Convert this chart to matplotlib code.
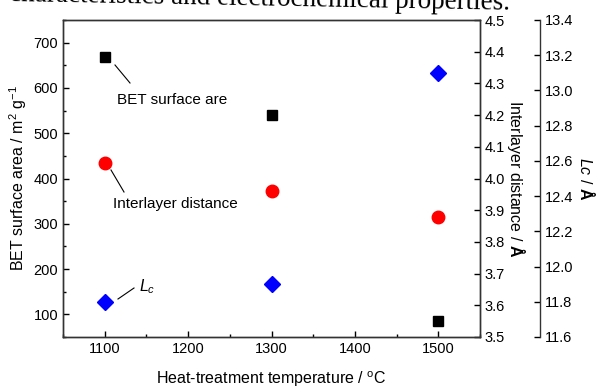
import matplotlib
matplotlib.use("Agg")
import matplotlib.pyplot as plt
from matplotlib.ticker import MultipleLocator, FormatStrFormatter

plt.rcParams['font.family'] = ['Liberation Sans', 'DejaVu Sans']
plt.rcParams['mathtext.fontset'] = 'custom'
plt.rcParams['mathtext.rm'] = 'Liberation Sans'
plt.rcParams['mathtext.it'] = 'Liberation Sans:italic'
plt.rcParams['mathtext.bf'] = 'Liberation Sans:bold'

temperature = [1100, 1300, 1500]
bet_area = [668, 540, 85]
interlayer = [4.05, 3.96, 3.88]
lc = [11.80, 11.90, 13.10]

fig = plt.figure(figsize=(5.96, 3.88), dpi=100)
W, H = 596, 388
ax = fig.add_axes([63 / W, 1 - 337 / H, (480 - 63) / W, (337 - 20) / H])
ax2 = ax.twinx()
ax3 = ax.twinx()
ax3.spines['right'].set_position(('outward', (540 - 480) * 0.72))

ax.plot(temperature, bet_area, 's', color='black', markersize=7.5, linestyle='none', clip_on=False, zorder=5)
ax2.plot(temperature, interlayer, 'o', color='red', markersize=9, linestyle='none', clip_on=False)
ax3.plot(temperature, lc, 'D', color='blue', markersize=8, linestyle='none', clip_on=False)

ax.set_xlim(1050, 1550)
ax.set_ylim(50, 750)
ax2.set_ylim(3.5, 4.5)
ax3.set_ylim(11.6, 13.4)

ax.xaxis.set_major_locator(MultipleLocator(100))
ax.xaxis.set_minor_locator(MultipleLocator(50))
ax.yaxis.set_major_locator(MultipleLocator(100))
ax.yaxis.set_minor_locator(MultipleLocator(50))
ax2.yaxis.set_major_locator(MultipleLocator(0.1))
ax3.yaxis.set_major_locator(MultipleLocator(0.2))
ax2.yaxis.set_major_formatter(FormatStrFormatter('%.1f'))
ax3.yaxis.set_major_formatter(FormatStrFormatter('%.1f'))

ax.tick_params(axis='both', which='major', direction='in', length=4, width=1, labelsize=10.5, top=False, right=False)
ax.tick_params(axis='both', which='minor', direction='in', length=2.5, width=1, top=False, right=False)
ax2.tick_params(axis='y', which='major', direction='in', length=4, width=1, labelsize=10.5)
ax3.tick_params(axis='y', which='major', direction='in', length=4, width=1, labelsize=10.5)

for a in (ax, ax2, ax3):
    for s in a.spines.values():
        s.set_linewidth(1.0)
        s.set_color('#333333')
ax3.spines['left'].set_visible(False)
ax3.spines['top'].set_visible(False)
ax3.spines['bottom'].set_visible(False)

ax.set_xlabel(r'Heat-treatment temperature / $^{\mathrm{o}}$C', fontsize=11.5, labelpad=10)
ax.set_ylabel(r'BET surface area / m$^{2}$ g$^{-1}$', fontsize=11.5, labelpad=3)
ax2.set_ylabel(r'Interlayer distance / $\mathbf{\AA}$', fontsize=11.5, rotation=270, labelpad=16)
ax3.set_ylabel(r'$Lc$ / $\mathbf{\AA}$', fontsize=11.5, rotation=270, labelpad=16)


def pix(x, y):
    return (x / W, 1 - y / H)

fig.add_artist(plt.Line2D(*zip(pix(115, 65), pix(130, 83)), color='black', lw=0.8))
fig.text(*pix(117, 104), 'BET surface are', fontsize=11, ha='left', va='baseline')
fig.add_artist(plt.Line2D(*zip(pix(111, 170), pix(124, 192)), color='black', lw=0.8))
fig.text(*pix(113, 208), 'Interlayer distance', fontsize=11, ha='left', va='baseline')
fig.add_artist(plt.Line2D(*zip(pix(118, 299), pix(134, 288)), color='black', lw=0.8))
fig.text(*pix(139, 291), r'$L_c$', fontsize=11.5, ha='left', va='baseline')

fig.text(*pix(510, 10), 'characteristics and electrochemical properties.', fontsize=19.5,
         family='Liberation Serif', ha='right', va='baseline', rotation=-1, rotation_mode='anchor')

fig.savefig('out.png', dpi=100)
